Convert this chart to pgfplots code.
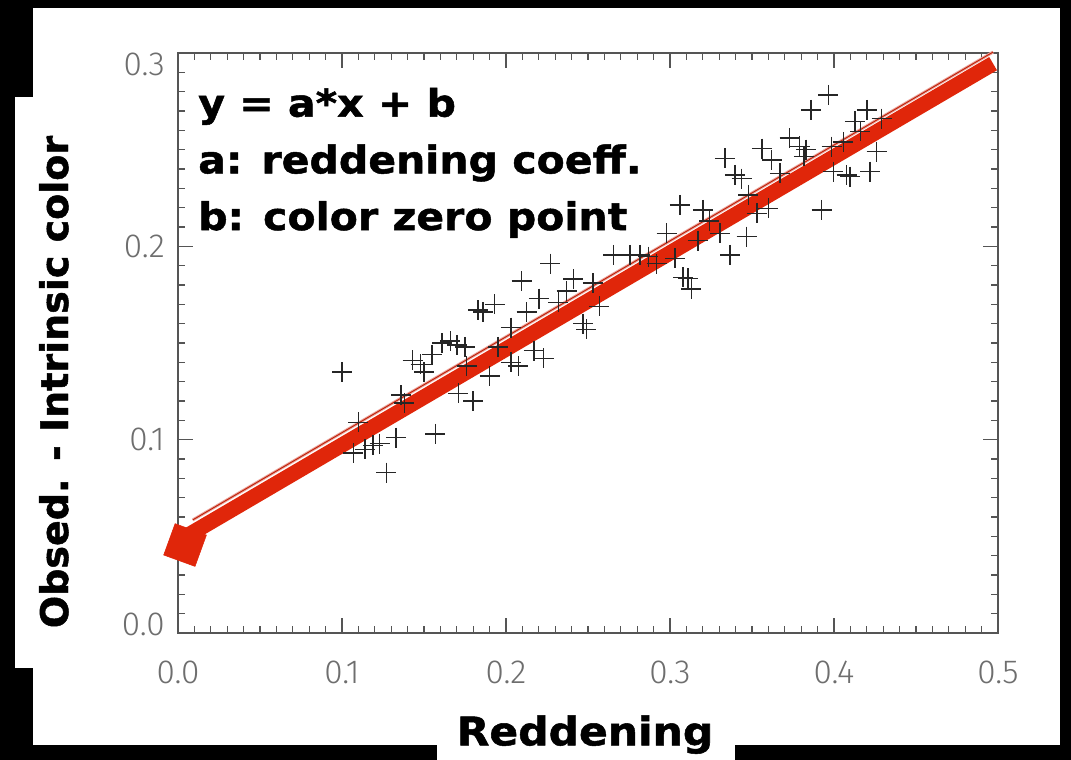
\documentclass[border=0pt]{standalone}
\usepackage{fontspec}
\usepackage{pgfplots}
\usepackage{pgfplotstable}
\pgfplotsset{compat=1.18}
\setmainfont{DejaVu Sans}
\newfontfamily\heavy{DejaVu Sans}[FakeStretch=1.08, BoldFeatures={FakeBold=1.3}]
\newfontfamily\heavyy{DejaVu Sans}[BoldFeatures={FakeBold=1.3}]
\newfontfamily\tickfont{Fira Sans Light}
\definecolor{fitred}{HTML}{E0260A}
\definecolor{thinred}{HTML}{EBA49C}
\definecolor{tickgray}{HTML}{6E6E6E}
\definecolor{axgray}{HTML}{555555}

\pgfplotstableread{
x y
0.100 0.135
0.107 0.093
0.110 0.109
0.114 0.095
0.119 0.097
0.123 0.098
0.127 0.083
0.133 0.101
0.136 0.123
0.138 0.119
0.143 0.141
0.148 0.139
0.150 0.135
0.155 0.144
0.157 0.103
0.161 0.150
0.166 0.151
0.170 0.149
0.175 0.148
0.171 0.124
0.176 0.138
0.180 0.120
0.183 0.167
0.186 0.166
0.193 0.170
0.190 0.133
0.195 0.148
0.203 0.158
0.2095 0.182
0.2125 0.166
0.203 0.140
0.2075 0.138
0.227 0.191
0.241 0.183
0.253 0.181
0.220 0.173
0.232 0.171
0.237 0.177
0.257 0.169
0.247 0.160
0.249 0.157
0.223 0.142
0.217 0.146
0.2654 0.1956
0.2756 0.1956
0.2817 0.1956
0.2868 0.1947
0.2919 0.191
0.298 0.2067
0.303 0.1938
0.306 0.2214
0.311 0.1834
0.313 0.178
0.320 0.2188
0.324 0.213
0.317 0.203
0.3966 0.2783
0.386 0.2706
0.420 0.2706
0.429 0.266
0.4128 0.2646
0.416 0.2595
0.4057 0.254
0.373 0.256
0.379 0.2517
0.383 0.250
0.356 0.2506
0.362 0.2447
0.3335 0.2455
0.3396 0.2369
0.3437 0.235
0.367 0.2378
0.426 0.249
0.3996 0.2387
0.4077 0.2369
0.422 0.2387
0.3924 0.2188
0.3477 0.2266
0.353 0.217
0.360 0.2196
0.3467 0.205
0.3366 0.1956
0.3305 0.2067
0.308 0.184
0.3817 0.2466
0.3986 0.2516
0.4098 0.236
}\datatable

\begin{document}
\begin{tikzpicture}
\fill[black] (0,0) rectangle (803.25pt,-570pt);
\fill[white] (24.75pt,-6pt) rectangle (795pt,-558.75pt);
\fill[white] (11.25pt,-72.75pt) rectangle (24.75pt,-501pt);
\fill[white] (327.75pt,-558.75pt) rectangle (551.25pt,-570pt);
\begin{axis}[
  at={(133.5pt,-474.75pt)}, anchor=south west,
  scale only axis, width=615pt, height=435pt,
  xmin=0, xmax=0.5, ymin=0, ymax=0.3,
  xtick={0,0.1,0.2,0.3,0.4,0.5}, ytick={0,0.1,0.2,0.3},
  minor x tick num=9, minor y tick num=9,
  tick align=inside,
  major tick length=11pt, minor tick length=5pt,
  axis line style={axgray, line width=0.9pt},
  every tick/.style={axgray, line width=0.9pt},
  xticklabel style={font=\tickfont\fontsize{25}{25}\selectfont, text=tickgray, inner sep=0pt, anchor=north, yshift=-20.6pt},
  yticklabel style={font=\tickfont\fontsize{25}{25}\selectfont, text=tickgray, inner sep=0pt, anchor=east, xshift=-9.75pt},
  xticklabel={\pgfmathprintnumber[fixed,fixed zerofill,precision=1,assume math mode=true]{\tick}},
  yticklabels={\raisebox{6.75pt}[0.69em][0pt]{0.0}, 0.1, 0.2, \raisebox{-8.25pt}[0.69em][0pt]{0.3}},
  clip=false,
]
\addplot[only marks, mark=+, mark size=7.5pt, black!85, mark options={line width=1.1pt}] table {\datatable};
\addplot[thinred, line width=2.2pt] coordinates {(0.009,0.0585) (0.497,0.3005)};
\addplot[fitred!85!black, line width=0.7pt] coordinates {(0.009,0.0585) (0.497,0.3005)};
\addplot[fitred, line width=11.5pt] coordinates {(0.004,0.0495) (0.497,0.2945)};
\addplot[only marks, mark=square*, mark size=12.5pt, fitred, mark options={rotate=-20}] coordinates {(0.0043,0.0455)};
\end{axis}
\node[anchor=base west, inner sep=0pt, font=\heavy\bfseries\fontsize{28.5}{28.5}\selectfont] at (148.5pt,-87.5pt) {y = a*x + b};
\node[anchor=base west, inner sep=0pt, font=\heavy\bfseries\fontsize{28.5}{28.5}\selectfont] at (148.5pt,-130pt) {a: reddening coeff.};
\node[anchor=base west, inner sep=0pt, font=\heavy\bfseries\fontsize{28.5}{28.5}\selectfont] at (148.5pt,-172.5pt) {b: color zero point};
\node[anchor=base, inner sep=0pt, font=\heavy\bfseries\fontsize{29.5}{29.5}\selectfont] at (438.75pt,-559pt) {Reddening};
\node[anchor=base, rotate=90, inner sep=0pt, font=\heavyy\bfseries\fontsize{28.5}{28.5}\selectfont] at (51pt,-286.5pt) {Obsed. - Intrinsic color};
\pgfresetboundingbox
\path[use as bounding box] (0,0) rectangle (803.25pt,-570pt);
\end{tikzpicture}
\end{document}
